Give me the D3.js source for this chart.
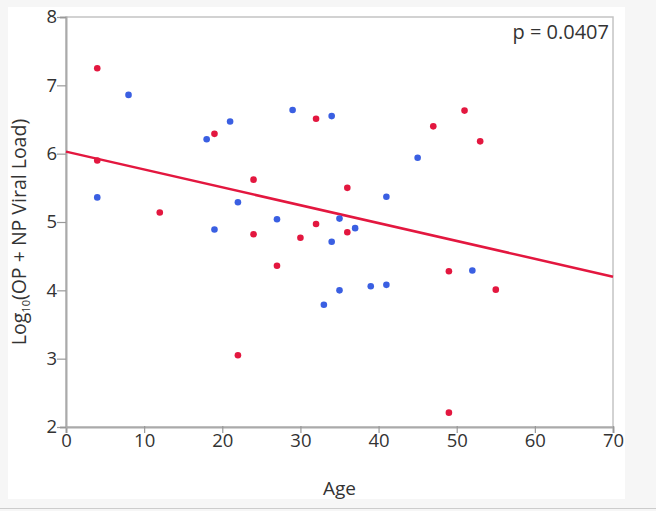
<!DOCTYPE html>
<html>
<head>
<meta charset="utf-8">
<script src="https://cdn.jsdelivr.net/npm/d3@7"></script>
<style>
  body { margin: 0; background: #f6f6f6; }
  svg { display: block; }
  text { font-family: "Open Sans", "Noto Sans", sans-serif; fill: #333; }
</style>
</head>
<body>
<svg id="chart"></svg>
<script>
// red group
const redAge  = [4, 4, 12, 19, 22, 24, 24, 27, 30, 32, 32, 36, 36, 47, 49, 49, 51, 53, 55];
const redLoad = [7.25, 5.90, 5.14, 6.29, 3.05, 5.62, 4.82, 4.36, 4.77, 6.51, 4.97, 5.50, 4.85, 6.40, 4.28, 2.21, 6.63, 6.18, 4.01];
// blue group
const blueAge  = [4, 8, 18, 19, 21, 22, 27, 29, 33, 34, 34, 35, 35, 37, 39, 41, 41, 45, 52];
const blueLoad = [5.36, 6.86, 6.21, 4.89, 6.47, 5.29, 5.04, 6.64, 3.79, 6.55, 4.71, 5.05, 4.00, 4.91, 4.06, 5.37, 4.08, 5.94, 4.29];
// fit line end points
const fitAge  = [0, 70];
const fitLoad = [6.03, 4.20];
const xTicks = [0, 10, 20, 30, 40, 50, 60, 70];
const yTicks = [2, 3, 4, 5, 6, 7, 8];
const pLabel = "p = 0.0407";

const width = 656, height = 511;
const margin = {top: 17, right: 43, bottom: 84, left: 66};
const plotW = width - margin.left - margin.right;
const plotH = height - margin.top - margin.bottom;

const red = "#e3173f";
const blue = "#3a5fe2";

const svg = d3.select("#chart").attr("width", width).attr("height", height);

// white panel
svg.append("rect").attr("x", 8).attr("y", 7).attr("width", 617).attr("height", 492).attr("fill", "#fff");
svg.append("line").attr("x1", 0).attr("x2", width).attr("y1", 508.5).attr("y2", 508.5)
   .attr("stroke", "#ccc").attr("stroke-width", 1);

const g = svg.append("g").attr("transform", `translate(${margin.left}, ${margin.top})`);

const x = d3.scaleLinear().domain([0, 70]).range([0, plotW]);
const y = d3.scaleLinear().domain([2, 8]).range([plotH, 0]);

// frame
g.append("rect").attr("width", plotW).attr("height", plotH)
 .attr("fill", "none").attr("stroke", "#c4c4c4").attr("stroke-width", 1.5);

const xAxis = g.append("g").attr("transform", `translate(0, ${plotH})`)
  .call(d3.axisBottom(x).tickValues(xTicks).tickFormat(d3.format("d")).tickSize(6).tickPadding(1));
const yAxis = g.append("g")
  .call(d3.axisLeft(y).tickValues(yTicks).tickFormat(d3.format("d")).tickSize(6).tickPadding(3));

[xAxis, yAxis].forEach(a => {
  a.select(".domain").attr("stroke", "#aaa").attr("stroke-width", 2);
  a.selectAll(".tick line").attr("stroke", "#999").attr("stroke-width", 1.2);
  a.selectAll("text").attr("font-size", "18.5px").attr("fill", "#333")
   .attr("font-family", "'Open Sans', sans-serif");
});
xAxis.selectAll(".tick line").attr("y1", -1).attr("y2", 6);
yAxis.selectAll(".tick line").attr("x1", 0).attr("x2", -9);

// fit line
g.append("line")
 .attr("x1", x(fitAge[0])).attr("y1", y(fitLoad[0]))
 .attr("x2", x(fitAge[1])).attr("y2", y(fitLoad[1]))
 .attr("stroke", red).attr("stroke-width", 2.5);

const dots = (ages, loads, color) => {
  g.append("g").selectAll("circle")
   .data(ages.map((a, i) => ({age: a, load: loads[i]})))
   .enter()
   .append("circle")
   .attr("cx", d => x(d.age))
   .attr("cy", d => y(d.load))
   .attr("r", 3.3)
   .attr("fill", color);
};
dots(redAge, redLoad, red);
dots(blueAge, blueLoad, blue);

g.append("text").text(pLabel)
 .attr("x", plotW - 4).attr("y", 22)
 .attr("text-anchor", "end").attr("font-size", "20px");

svg.append("text").text("Age")
 .attr("x", margin.left + plotW / 2).attr("y", 495)
 .attr("text-anchor", "middle").attr("font-size", "19px");

const yl = svg.append("text")
 .attr("transform", `translate(26, ${margin.top + plotH / 2 + 10}) rotate(-90)`)
 .attr("text-anchor", "middle").attr("font-size", "19.5px");
yl.append("tspan").text("Log");
yl.append("tspan").text("10").attr("font-size", "11px").attr("dy", 4);
yl.append("tspan").text("(OP + NP Viral Load)").attr("dy", -4);
</script>
</body>
</html>
